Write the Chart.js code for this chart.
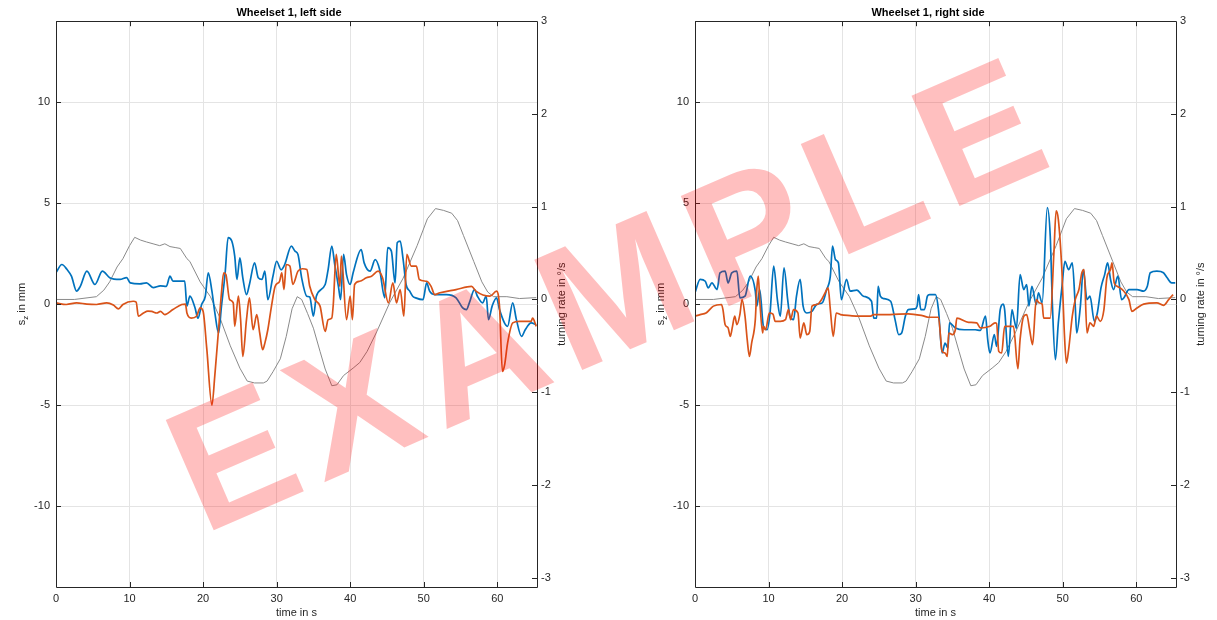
<!DOCTYPE html>
<html>
<head>
<meta charset="utf-8">
<script src="https://cdn.jsdelivr.net/npm/chart.js@4.4.0/dist/chart.umd.min.js"></script>
<style>
  body { margin: 0; background: #fff; }
  #wrap { position: relative; width: 1217px; height: 620px; overflow: hidden; }
  .box { position: absolute; top: 0; width: 578px; height: 620px; }
  #mark { position: absolute; left: 0; top: 0; pointer-events: none; }
</style>
</head>
<body>
<div id="wrap">
  <div class="box" style="left:0px"><canvas id="leftChart" width="578" height="620"></canvas></div>
  <div class="box" style="left:639px"><canvas id="rightChart" width="578" height="620"></canvas></div>
  <svg id="mark" width="1217" height="620">
    <text x="203" y="535" transform="rotate(-23.5 203 535)" font-family="Liberation Sans, Arial, sans-serif"
          font-weight="bold" font-size="175" letter-spacing="14" fill="rgba(255,0,0,0.25)">EXAMPLE</text>
  </svg>
</div>
<script>
// turning rate (right axis, deg/s) - same signal in both plots
var turnTime = [0, 2.5, 5.5, 6.5, 7.3, 8.3, 9.1, 10.0, 10.7, 11.5, 12.3, 13.2, 14.1, 14.8, 15.5, 16.2, 16.9, 17.8, 18.2,
  19.6, 21.0, 22.3, 23.7, 25.0, 26.0, 27.0, 28.2, 28.7, 29.5, 30.5, 31.3, 32.1, 32.8, 33.4, 34.2, 35.0, 35.9, 36.6,
  37.5, 38.2, 39.1, 40.4, 41.3, 42.3, 43.6, 45.4, 47.2, 49.1, 50.5, 51.6, 52.7, 53.8, 54.6, 55.4, 56.8, 57.9, 58.7,
  59.5, 61.3, 63.0, 65.3];
var turnRate = [0.0, 0.0, 0.03, 0.1, 0.19, 0.35, 0.44, 0.58, 0.67, 0.64, 0.62, 0.6, 0.58, 0.6, 0.57, 0.56, 0.55, 0.44, 0.41,
  0.19, 0.03, -0.2, -0.5, -0.74, -0.88, -0.9, -0.9, -0.88, -0.78, -0.64, -0.4, -0.1, 0.03, 0.0, -0.15, -0.31, -0.56, -0.75,
  -0.93, -0.92, -0.82, -0.74, -0.68, -0.56, -0.35, -0.03, 0.23, 0.58, 0.87, 0.98, 0.96, 0.93, 0.85, 0.69, 0.41, 0.19, 0.08,
  0.03, 0.03, 0.01, 0.02];

// left side, s_z in mm
var leftBlueTime = [0, 0.8, 1.5, 2.1, 2.8, 3.3, 4.2, 5.3, 6.3, 7.3, 8.7, 9.6, 10.1, 11.4, 12.3, 13.2, 14.2, 15.0, 15.5, 15.9,
  17.5, 17.8, 18.2, 18.9, 19.3, 19.8, 20.3, 20.7, 21.2, 21.6, 22.1, 22.5, 23.0, 23.4, 23.9, 24.3, 24.6, 25.0, 25.4, 25.9,
  26.3, 27.0, 27.5, 28.0, 28.4, 28.8, 29.5, 30.0, 30.6, 31.1, 32.0, 32.5, 32.9, 33.4, 34.1, 34.5, 35.0, 35.4, 36.6, 37.0,
  37.5, 37.9, 38.4, 38.7, 39.1, 39.5, 40.0, 40.4, 41.5, 41.9, 42.7, 43.4, 44.0, 44.7, 45.1, 45.6, 46.1, 46.4, 46.8, 47.2,
  47.6, 48.1, 48.5, 48.9, 49.9, 50.4, 50.8, 51.5, 53.1, 54.4, 55.3, 55.8, 56.2, 56.9, 57.3, 58.0, 58.5, 58.8, 59.3, 59.9,
  60.3, 61.4, 62.1, 62.6, 63.3, 63.8, 64.6, 65.3];
var leftBlue = [1.56, 1.96, 1.71, 1.38, 0.64, 0.88, 1.63, 0.97, 1.63, 1.31, 1.22, 1.31, 1.05, 1.0, 1.05, 0.82, 0.9, 0.88, 1.38, 1.14,
  1.14, -0.1, 0.39, -0.18, -0.7, -0.02, 0.39, 1.55, 0.64, -0.43, -1.43, -0.1, 1.55, 3.29, 3.12, 2.37, 1.22, 2.29, 1.3, 0.47,
  0.97, 2.04, 1.3, 1.22, 1.63, 0.22, 1.38, 2.12, 1.7, 1.96, 2.87, 2.62, 2.46, 1.3, 0.39, 0.35, -0.6, 0.39, 0.97, 1.71,
  2.87, 1.96, 0.88, 0.22, 2.46, 1.46, 0.97, 1.55, 2.7, 2.04, 1.63, 2.2, 1.71, 0.31, 2.79, 2.62, 1.05, 3.04, 3.12, 2.2,
  0.97, 0.64, 0.39, 0.31, 0.22, 1.05, 0.64, 0.47, 0.47, 0.31, -0.19, -0.27, 0.06, 0.72, 0.39, 0.06, 0.39, -0.77, -0.1, 0.31,
  -0.27, -1.1, 0.06, -0.77, -1.6, -1.27, -0.93, -1.02];
var leftOrangeTime = [0, 1.4, 2.8, 4.2, 5.5, 6.9, 7.8, 8.5, 9.1, 10.5, 10.9, 11.2, 11.9, 12.5, 13.0, 13.7, 14.2, 14.8, 15.9,
  17.1, 17.6, 17.8, 18.4, 19.1, 19.6, 20.0, 20.5, 21.2, 21.6, 22.1, 22.5, 22.8, 23.1, 23.6, 24.1, 24.3, 24.8, 25.1, 25.4,
  25.9, 26.3, 26.8, 27.3, 27.7, 28.1, 28.4, 28.8, 29.3, 29.8, 30.4, 30.7, 31.0, 31.3, 31.8, 32.2, 32.9, 33.5, 34.1, 34.5,
  35.2, 35.9, 36.6, 37.0, 37.5, 37.7, 38.1, 38.6, 38.8, 39.5, 40.0, 40.3, 40.6, 41.3, 42.2, 42.9, 43.8, 44.4, 45.2, 45.8,
  46.3, 46.8, 47.3, 47.7, 48.3, 49.0, 49.4, 50.4, 51.0, 51.5, 52.2, 54.4, 56.5, 57.1, 59.0, 59.9, 60.3, 60.7, 61.0, 61.4,
  62.1, 63.0, 64.6, 64.8, 65.3];
var leftOrange = [0.06, -0.02, 0.06, 0.0, -0.02, 0.06, -0.05, -0.24, -0.02, 0.14, 0.1, -0.6, -0.44, -0.35, -0.36, -0.44, -0.36, -0.52, -0.27,
  -0.02, 0.0, -0.44, -0.69, -0.6, -0.19, -0.35, -2.2, -5.0, -3.5, -1.27, 0.56, 1.55, 1.46, 0.22, 0.06, -1.1, 0.39, -0.77, -2.59,
  -0.77, 0.31, -1.27, -0.52, -1.43, -2.26, -1.93, -1.27, -0.1, 0.88, 1.13, 1.55, 0.72, 1.96, 1.88, 0.97, 1.63, 1.75, 1.71, 0.88,
  0.22, -0.1, -1.35, -0.77, -0.69, -0.02, 2.46, 0.88, 2.37, -0.77, 0.39, -0.77, 0.97, 1.13, 1.3, 1.38, 1.63, 1.3, 0.06, 1.05,
  0.06, 0.72, -0.6, 2.46, 1.88, 1.88, 1.22, 1.13, 0.88, 0.47, 0.56, 0.72, 0.88, 0.64, 0.39, 0.64, -0.1, -3.33, -3.0, -1.93,
  -0.93, -0.85, -0.85, -0.69, -1.1];

// right side, s_z in mm
var rightBlueTime = [0, 0.7, 1.4, 1.8, 2.3, 3.0, 3.4, 4.1, 4.5, 5.0, 5.7, 6.1, 6.8, 7.5, 8.2, 8.4, 8.8, 9.3, 9.8, 10.2, 10.7,
  11.2, 11.6, 12.1, 12.6, 12.9, 13.4, 13.8, 14.3, 14.7, 15.2, 15.9, 16.6, 17.3, 17.9, 18.4, 18.7, 19.1, 19.5, 19.9, 20.6,
  21.1, 22.0, 22.9, 24.0, 24.3, 24.7, 24.9, 25.2, 25.7, 26.6, 27.2, 27.7, 28.1, 28.6, 29.0, 29.9, 30.2, 30.4, 30.7, 31.2,
  31.6, 31.9, 32.7, 33.1, 33.6, 34.0, 34.4, 34.6, 35.4, 36.6, 38.1, 38.8, 39.5, 39.8, 40.1, 40.7, 41.0, 41.5, 41.9, 42.1,
  42.6, 43.1, 43.4, 43.7, 44.2, 44.7, 45.1, 45.4, 45.8, 46.4, 46.7, 47.2, 47.9, 48.3, 48.6, 49.0, 49.4, 49.9, 50.3, 50.8,
  51.3, 51.7, 51.9, 52.4, 52.8, 53.3, 53.7, 54.3, 54.7, 55.2, 55.7, 56.1, 56.5, 56.9, 57.5, 58.0, 58.3, 59.0, 60.1, 61.0,
  61.5, 61.9, 62.8, 63.7, 64.2, 64.8, 65.3];
var rightBlue = [0.56, 1.22, 1.13, 0.8, 1.05, 0.72, 1.55, 1.63, 1.05, 1.55, 1.63, 0.31, 0.39, 1.38, 0.64, -0.1, 0.72, -1.1, -1.27, -0.44, 1.88,
  0.22, -0.6, 1.8, 0.22, -0.6, -0.77, 0.39, 1.22, -0.1, -0.44, -0.36, 0.0, 0.06, 0.72, 1.38, 2.87, 2.2, 2.04, 0.22, 1.22,
  0.64, 0.69, 0.39, 0.14, -0.69, -0.69, 0.88, 0.39, 0.27, 0.14, -0.77, -1.51, -1.43, -0.6, -0.27, -0.24, -0.1, 0.47, -0.27, -0.27,
  0.39, 0.47, 0.47, -0.27, -2.42, -1.93, -2.18, -0.93, -1.18, -1.27, -1.27, -1.3, -0.6, -1.76, -2.42, -1.51, -2.09, -0.27, 0.0, -0.27,
  -2.59, -0.27, -0.77, -1.2, 1.46, 0.72, 0.97, -0.1, 0.88, -0.02, 0.56, 0.06, 4.77, 3.37, -0.1, -2.75, -0.93, 0.88, 2.12, 1.71,
  2.04, -0.1, -1.43, -0.1, 1.71, 0.22, 0.39, -0.85, -0.44, 0.8, 1.46, 2.04, 1.22, 0.72, 1.38, 0.22, 0.3, 0.72, 0.72, 0.64,
  0.88, 1.55, 1.63, 1.55, 1.3, 1.05, 1.05];
var rightOrangeTime = [0, 0.7, 1.5, 2.5, 3.6, 3.8, 4.1, 4.5, 4.8, 5.1, 5.4, 5.7, 6.1, 6.4, 6.8, 7.1, 7.4, 7.7, 8.2, 8.4, 8.6,
  8.8, 9.2, 9.3, 9.6, 10.1, 10.6, 10.9, 11.6, 12.3, 12.7, 13.0, 13.4, 14.0, 14.3, 14.8, 15.2, 15.6, 15.9, 16.6, 17.2, 17.7,
  18.1, 18.4, 18.8, 19.2, 19.8, 21.1, 22.3, 23.8, 24.3, 26.5, 29.0, 30.9, 31.8, 33.1, 33.6, 34.0, 34.3, 34.5, 35.0, 35.4,
  35.6, 37.2, 38.3, 38.8, 40.1, 40.8, 41.0, 41.3, 41.7, 42.1, 43.3, 43.9, 44.2, 44.7, 45.1, 45.5, 45.9, 46.4, 46.8, 47.2,
  47.4, 48.3, 48.8, 49.1, 49.4, 49.9, 50.2, 50.5, 50.8, 51.3, 51.7, 52.2, 52.6, 52.9, 53.3, 53.7, 54.2, 54.6, 55.1, 55.6,
  56.0, 56.5, 56.7, 57.0, 57.4, 58.1, 59.0, 59.4, 60.1, 61.0, 62.8, 63.7, 64.4, 65.0];
var rightOrange = [-0.6, -0.52, -0.44, -0.1, -0.02, -0.27, -1.02, -1.18, -1.6, -1.1, -0.6, -1.02, -0.52, 0.22, -0.6, -1.76, -2.59, -1.93, -0.77, 0.72, 1.38,
  0.22, -1.43, -1.1, -1.27, -0.44, -0.5, -0.85, -0.85, -0.77, -0.27, -0.77, -0.27, -0.44, -1.68, -0.93, -1.51, -1.35, -0.1, -0.02, 0.22, 0.56,
  0.8, -0.27, -1.6, -0.44, -0.52, -0.57, -0.6, -0.6, -0.52, -0.52, -0.48, -0.57, -0.65, -0.65, -2.34, -2.42, -2.59, -1.43, -1.51, -1.27,
  -0.69, -0.9, -0.93, -1.18, -1.1, -0.93, -0.95, -2.34, -2.42, -1.1, -1.1, -3.2, -1.76, -0.6, -0.52, -1.27, -2.01, 0.22, 0.06, 0.0,
  -0.69, -0.69, 2.54, 4.61, 4.19, 1.55, -1.27, -2.92, -2.26, -0.6, 0.22, 0.72, 1.55, 1.71, -1.43, -0.93, -1.1, -0.6, -0.85, -0.27,
  1.3, 1.71, 2.04, 1.05, 0.88, 0.72, 0.22, -0.36, -0.19, 0.0, 0.06, -0.06, 0.22, 0.47];

var xTicks = [0, 10, 20, 30, 40, 50, 60];
var leftTicks = [-10, -5, 0, 5, 10];
var rightTicks = [-3, -2, -1, 0, 1, 2, 3];

var FONT = '"Liberation Sans", Arial, Helvetica, sans-serif';
var INK = '#262626';

function pts(ts, vs) {
  return ts.map(function (t, i) { return { x: t, y: vs[i] }; });
}

function setTicks(list) {
  return function (scale) { scale.ticks = list.map(function (v) { return { value: v }; }); };
}

// box, inward tick marks and the two rotated y labels
var framePlugin = {
  id: 'frame',
  afterDraw: function (chart) {
    var ctx = chart.ctx, a = chart.chartArea;
    var sx = chart.scales.x, sy = chart.scales.y, sy2 = chart.scales.y2;
    ctx.save();
    ctx.strokeStyle = INK;
    ctx.lineWidth = 1;
    ctx.beginPath();
    ctx.rect(Math.round(a.left) + 0.5, Math.round(a.top) + 0.5, Math.round(a.right - a.left), Math.round(a.bottom - a.top));
    xTicks.forEach(function (v) {
      var px = Math.round(sx.getPixelForValue(v)) + 0.5;
      ctx.moveTo(px, a.bottom); ctx.lineTo(px, a.bottom - 5);
      ctx.moveTo(px, a.top); ctx.lineTo(px, a.top + 5);
    });
    leftTicks.forEach(function (v) {
      var py = Math.round(sy.getPixelForValue(v)) + 0.5;
      ctx.moveTo(a.left, py); ctx.lineTo(a.left + 5, py);
    });
    rightTicks.forEach(function (v) {
      var py = Math.round(sy2.getPixelForValue(v)) + 0.5;
      ctx.moveTo(a.right, py); ctx.lineTo(a.right - 5, py);
    });
    ctx.stroke();

    var yc = (a.top + a.bottom) / 2;
    ctx.fillStyle = INK;
    ctx.textBaseline = 'middle';
    ctx.textAlign = 'left';
    // left label: s_z in mm
    ctx.save();
    ctx.translate(22, yc);
    ctx.rotate(-Math.PI / 2);
    var big = '11px ' + FONT, small = '8px ' + FONT;
    ctx.font = big; var ws = ctx.measureText('s').width, wr = ctx.measureText(' in mm').width;
    ctx.font = small; var wz = ctx.measureText('z').width;
    var x0 = -(ws + wz + wr) / 2;
    ctx.font = big; ctx.fillText('s', x0, 0);
    ctx.font = small; ctx.fillText('z', x0 + ws, 4);
    ctx.font = big; ctx.fillText(' in mm', x0 + ws + wz, 0);
    ctx.restore();
    // right label
    ctx.save();
    ctx.translate(a.right + 25, yc);
    ctx.rotate(-Math.PI / 2);
    ctx.textAlign = 'center';
    ctx.font = big;
    ctx.fillText('turning rate in \u00b0/s', 0, 0);
    ctx.restore();
    ctx.restore();
  }
};

function makeChart(id, title, bT, bV, oT, oV) {
  var gridColor = '#e4e4e4';
  return new Chart(document.getElementById(id), {
    type: 'line',
    data: {
      datasets: [
        { data: pts(oT, oV), borderColor: '#D95319', borderWidth: 1.7, pointRadius: 0, yAxisID: 'y', cubicInterpolationMode: 'monotone' },
        { data: pts(bT, bV), borderColor: '#0072BD', borderWidth: 1.7, pointRadius: 0, yAxisID: 'y', cubicInterpolationMode: 'monotone' },
        { data: pts(turnTime, turnRate), borderColor: '#8a8a8a', borderWidth: 1, pointRadius: 0, yAxisID: 'y2' }
      ]
    },
    options: {
      responsive: false,
      devicePixelRatio: 1,
      animation: false,
      layout: { padding: 0 },
      plugins: {
        legend: { display: false },
        tooltip: { enabled: false },
        title: {
          display: true, text: title, color: '#000',
          font: { family: FONT, size: 11, weight: 'bold' },
          padding: { top: 6, bottom: 2 }
        }
      },
      scales: {
        x: {
          type: 'linear', position: 'bottom', min: 0, max: 65.4,
          afterBuildTicks: setTicks(xTicks),
          afterFit: function (s) { s.height = 33; },
          grid: { color: gridColor, drawTicks: false },
          border: { display: false },
          ticks: { color: INK, padding: 5, maxRotation: 0, font: { family: FONT, size: 11 } },
          title: { display: true, text: 'time in s', color: INK, font: { family: FONT, size: 11 }, padding: { top: 0, bottom: 0 } }
        },
        y: {
          position: 'left', min: -14, max: 14,
          afterBuildTicks: setTicks(leftTicks),
          afterFit: function (s) { s.width = 56; },
          grid: { color: gridColor, drawTicks: false },
          border: { display: false },
          ticks: { color: INK, padding: 6, font: { family: FONT, size: 11 } }
        },
        y2: {
          position: 'right', min: -3.1, max: 3.0,
          afterBuildTicks: setTicks(rightTicks),
          afterFit: function (s) { s.width = 41; },
          grid: { display: false, drawTicks: false },
          border: { display: false },
          ticks: { color: INK, padding: 4, font: { family: FONT, size: 11 } }
        }
      }
    },
    plugins: [framePlugin]
  });
}

makeChart('leftChart', 'Wheelset 1, left side', leftBlueTime, leftBlue, leftOrangeTime, leftOrange);
makeChart('rightChart', 'Wheelset 1, right side', rightBlueTime, rightBlue, rightOrangeTime, rightOrange);
</script>
</body>
</html>
